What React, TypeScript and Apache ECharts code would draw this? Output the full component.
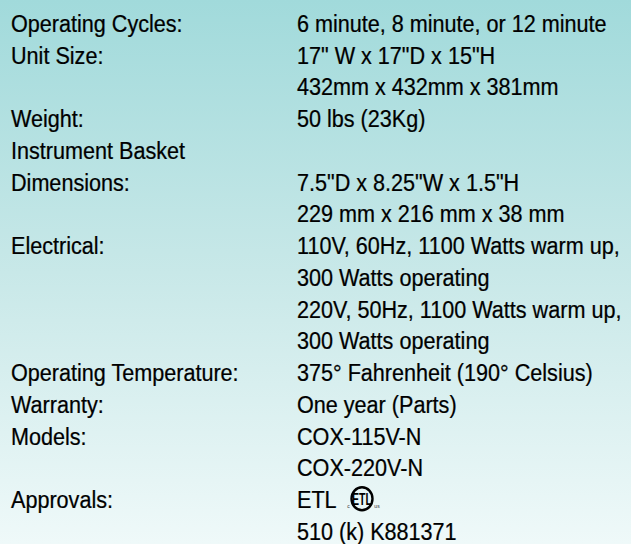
import React, { useEffect, useRef } from "react";
import * as echarts from "echarts";

const labels: string[] = [
  "Operating Cycles:",
  "Unit Size:",
  "",
  "Weight:",
  "Instrument Basket",
  "Dimensions:",
  "",
  "Electrical:",
  "",
  "",
  "",
  "Operating Temperature:",
  "Warranty:",
  "Models:",
  "",
  "Approvals:",
  "",
];

const values: string[] = [
  "6 minute, 8 minute, or 12 minute",
  '17" W x 17"D x 15"H',
  "432mm x 432mm x 381mm",
  "50 lbs (23Kg)",
  "",
  '7.5"D x 8.25"W x 1.5"H',
  "229 mm x 216 mm x 38 mm",
  "110V, 60Hz, 1100 Watts warm up,",
  "300 Watts operating",
  "220V, 50Hz, 1100 Watts warm up,",
  "300 Watts operating",
  "375° Fahrenheit (190° Celsius)",
  "One year (Parts)",
  "COX-115V-N",
  "COX-220V-N",
  "ETL",
  "510 (k) K881371",
];

const W = 631;
const H = 544;
const FIRST_BASELINE = 32;
const ROW_STEP = 31.75;
const LEFT_X = 11;
const RIGHT_X = 297;
const FONT_SIZE = 24.5;
const SCALE_X = 0.882;
const FONT = `${FONT_SIZE}px "Liberation Sans", Arial, sans-serif`;
const BASELINE_OFFSET = 0.3465 * FONT_SIZE;

export default function App() {
  const ref = useRef<HTMLDivElement>(null);

  useEffect(() => {
    document.body.style.margin = "0";
    if (!ref.current) return;
    const chart = echarts.init(ref.current, undefined, { renderer: "svg" });

    const elements: any[] = [
      {
        type: "rect",
        x: 0,
        y: 0,
        shape: { x: 0, y: 0, width: W, height: H },
        style: {
          fill: {
            type: "linear",
            x: 0,
            y: 0,
            x2: 0,
            y2: 1,
            colorStops: [
              { offset: 0, color: "#a1dadb" },
              { offset: 0.5, color: "#c8e8e8" },
              { offset: 1, color: "#eff9f9" },
            ],
          },
        },
        silent: true,
      },
    ];

    const addText = (text: string, x: number, baseline: number) => {
      if (!text) return;
      elements.push({
        type: "text",
        x,
        y: baseline - BASELINE_OFFSET,
        scaleX: SCALE_X,
        style: {
          text,
          x: 0,
          y: 0,
          font: FONT,
          fill: "#000000",
          stroke: "#000000",
          lineWidth: 0.25,
          verticalAlign: "middle",
          align: "left",
        },
      });
    };

    labels.forEach((t, i) => addText(t, LEFT_X, FIRST_BASELINE + i * ROW_STEP));
    values.forEach((t, i) => addText(t, RIGHT_X, FIRST_BASELINE + i * ROW_STEP));

    // ETL listed mark next to "ETL"
    const etlRow = values.indexOf("ETL");
    const cy = FIRST_BASELINE + etlRow * ROW_STEP - 9.5;
    const cx = 362;
    elements.push(
      {
        type: "ellipse",
        shape: { cx, cy, rx: 10.5, ry: 11.5 },
        style: { fill: "none", stroke: "#000", lineWidth: 2.4 },
      },
      {
        type: "text",
        x: cx,
        y: cy + 0.5,
        scaleX: 0.62,
        style: {
          text: "ETL",
          x: 0,
          y: 0,
          font: 'bold 17px "Liberation Sans", Arial, sans-serif',
          fill: "#000",
          align: "center",
          verticalAlign: "middle",
        },
      },
      {
        type: "text",
        x: cx - 13.5,
        y: cy + 7,
        style: {
          text: "c",
          x: 0,
          y: 0,
          font: '5px "Liberation Sans", Arial, sans-serif',
          fill: "#333",
          align: "center",
          verticalAlign: "middle",
        },
      },
      {
        type: "text",
        x: cx + 15,
        y: cy + 7,
        style: {
          text: "us",
          x: 0,
          y: 0,
          font: '5px "Liberation Sans", Arial, sans-serif',
          fill: "#333",
          align: "center",
          verticalAlign: "middle",
        },
      }
    );

    chart.setOption({
      animation: false,
      graphic: { elements },
    });

    return () => chart.dispose();
  }, []);

  return <div ref={ref} style={{ width: W, height: H }} />;
}
